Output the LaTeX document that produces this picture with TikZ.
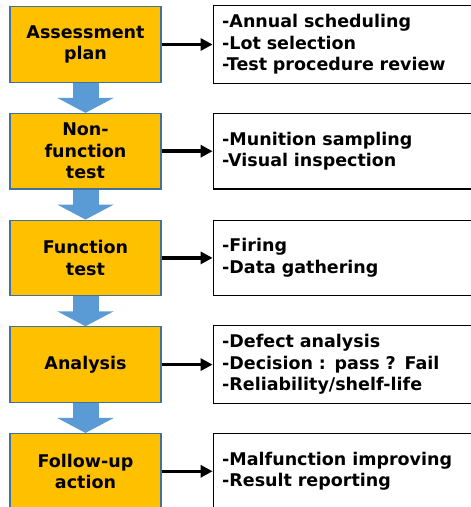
\documentclass[tikz,border=0pt]{standalone}
\usepackage{fontspec}
\setmainfont{DejaVu Sans}
\usetikzlibrary{positioning}
\usetikzlibrary{arrows.meta}

\definecolor{stepfill}{HTML}{FFC000}
\definecolor{stepline}{HTML}{41719C}
\definecolor{flowblue}{HTML}{5B9BD5}

\begin{document}
\begin{tikzpicture}
	[every node/.append style={font=\bfseries\fontsize{17.5}{21.5}\selectfont},
	node distance=30pt and 51pt,
	stage/.style={draw=stepline, line width=1.2pt, fill=stepfill, minimum width=151pt, minimum height=75.5pt, text width=145pt, inner sep=3pt, align=center},
	task/.style={draw, line width=1.2pt, fill=white, minimum height=75.5pt, text width=262pt, inner sep=9pt, align=left},
	flow/.style={flowblue, line width=26pt, -{Triangle[length=15pt 0 0, width=56pt 0 0]}},
	link/.style={line width=3.6pt, -{Triangle[length=12pt 0 0, width=12pt 0 0]}}]
	
	\clip (0,0) rectangle (471pt,-507pt);
	\useasboundingbox (0,0) rectangle (471pt,-507pt);
	
	% nodes
	\node [stage] (plan) at (85.5pt,-44.5pt) {Assessment\\ plan};
	\node [stage, below=of plan] (nonfunc) {Non-\\ function\\ test};
	\node [stage, below=of nonfunc] (func) {Function\\ test};
	\node [stage, below=of func] (anal) {Analysis};
	\node [stage, below=of anal] (follow) {Follow-up\\ action};
	
	\node [task, right=of plan] (plantask) {-Annual scheduling\\ -Lot selection\\ -Test procedure review};
	\node [task, right=of nonfunc] (nonfunctask) {-Munition sampling\\ -Visual inspection};
	\node [task, right=of func] (functask) {-Firing\\ -Data gathering};
	\node [task, right=of anal] (analtask) {-Defect analysis\\ -Decision : pass ? Fail\\ -Reliability/shelf-life};
	\node [task, right=of follow] (followtask) {-Malfunction improving\\ -Result reporting};
	
	% flow arrows
	\draw [flow] (plan.south) -- (nonfunc.north);
	\draw [flow] (nonfunc.south) -- (func.north);
	\draw [flow] (func.south) -- (anal.north);
	\draw [flow] (anal.south) -- (follow.north);
	
	% side arrows
	\draw [link] (plan) -- (plantask);
	\draw [link] (nonfunc) -- (nonfunctask);
	\draw [link] (func) -- (functask);
	\draw [link] (anal) -- (analtask);
	\draw [link] (follow) -- (followtask);
\end{tikzpicture}
\end{document}
